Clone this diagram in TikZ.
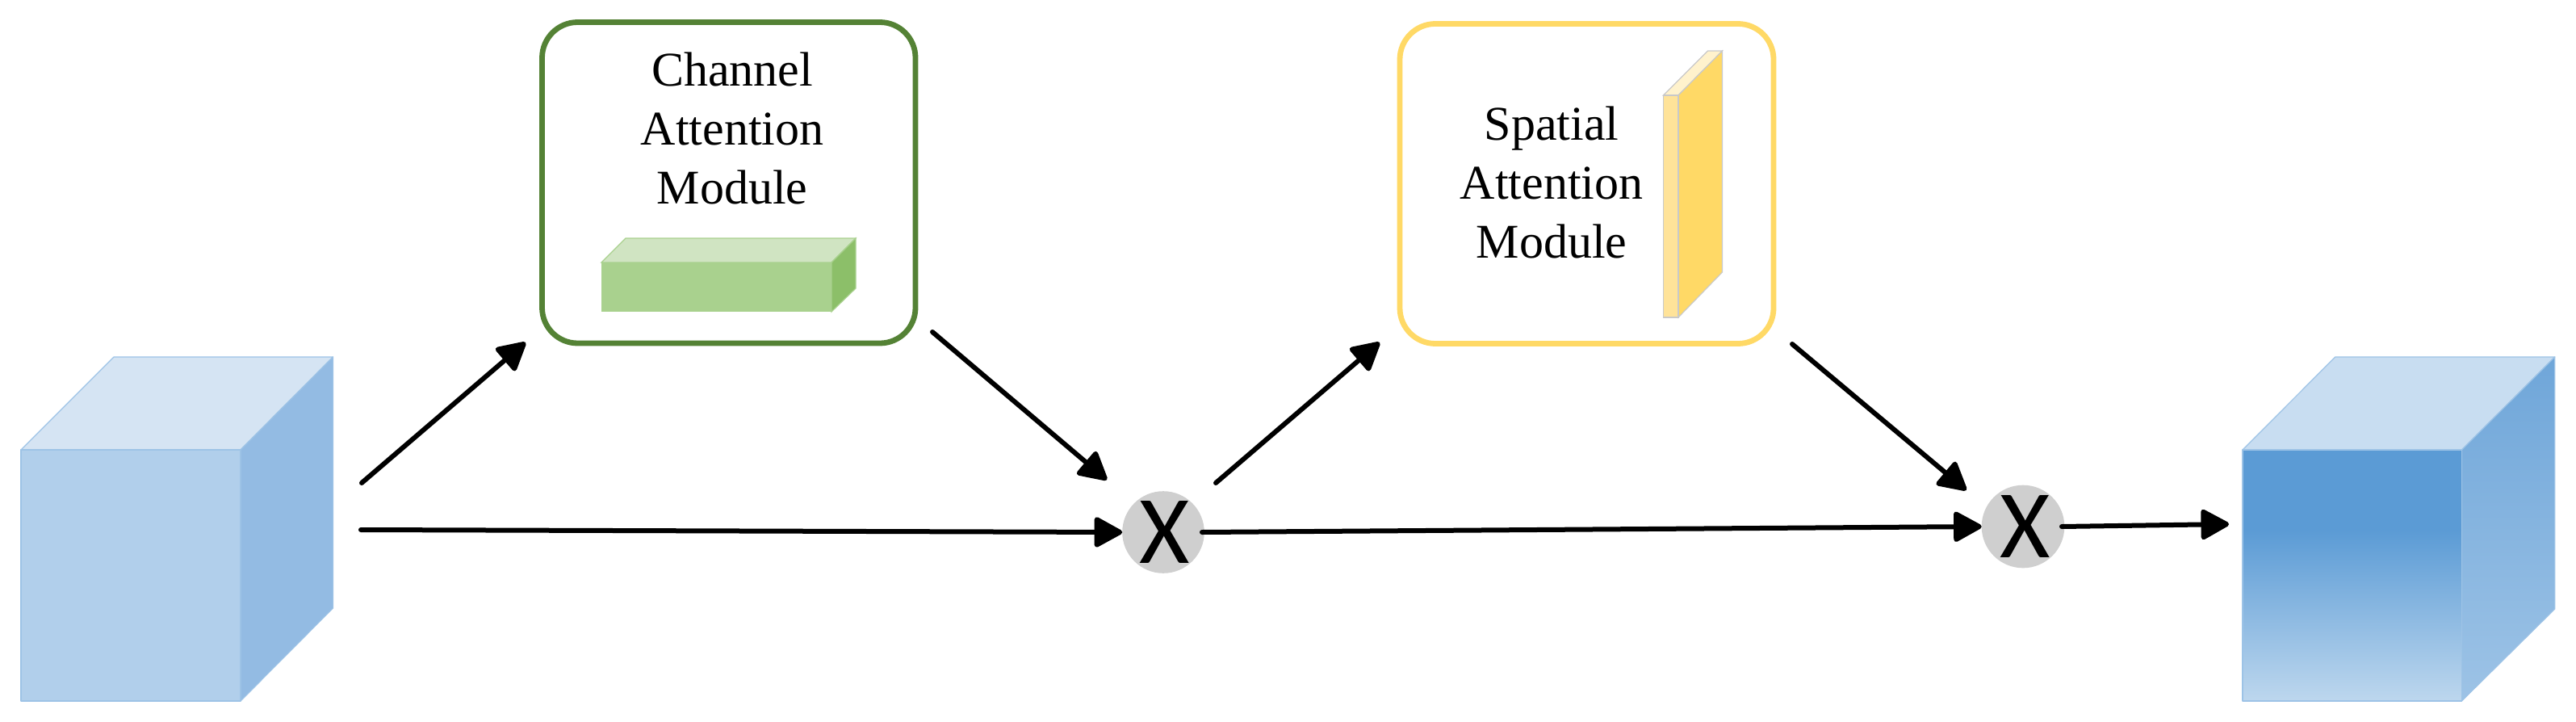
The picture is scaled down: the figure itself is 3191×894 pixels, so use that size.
\documentclass[tikz,border=0pt]{standalone}
\usepackage{fontspec}
\setmainfont{Liberation Serif}
\newfontfamily\xfont{Carlito}
\usetikzlibrary{arrows.meta}
\definecolor{gdark}{HTML}{548235}
\definecolor{gfront}{HTML}{A9D18E}
\definecolor{gtop}{HTML}{D0E4C2}
\definecolor{gside}{HTML}{8CBF69}
\definecolor{yline}{HTML}{FFD966}
\definecolor{yfront}{HTML}{FFE399}
\definecolor{ytop}{HTML}{FFF2CC}
\definecolor{yedge}{HTML}{C9C9C9}
\definecolor{bedge}{HTML}{9DC3E6}
\definecolor{bfront}{HTML}{B1CFEB}
\definecolor{btop}{HTML}{D5E4F3}
\definecolor{bside}{HTML}{93BBE3}
\definecolor{rtop}{HTML}{C8DDF1}
\definecolor{rsidetop}{HTML}{6FA6D9}
\definecolor{rsidebot}{HTML}{9DC3E6}
\definecolor{rfronttop}{HTML}{5B9BD5}
\definecolor{rfrontbot}{HTML}{BDD7EE}
\definecolor{mulgray}{HTML}{CFCFCF}
\pgfdeclareverticalshading{frontgrad}{100bp}{color(0bp)=(rfrontbot); color(25bp)=(rfrontbot); color(59bp)=(rfronttop); color(75bp)=(rfronttop); color(100bp)=(rfronttop)}
\tikzset{
  modulebox/.style={rectangle,rounded corners=22pt,line width=3.4pt,fill=white,inner sep=0pt,outer sep=0pt},
  modtext/.style={inner sep=0pt,outer sep=0pt,align=center,font=\fontsize{30}{36.5}\selectfont},
  mulnode/.style={circle,fill=mulgray,minimum size=50pt,inner sep=0pt,outer sep=0pt,font=\xfont\fontsize{60}{60}\selectfont},
  flow/.style={line width=3pt,line cap=round,-{Triangle[length=19pt,width=20pt,round]}},
  cubeface/.style={draw=bedge,line width=0.6pt,line join=round},
}
\begin{document}
\begin{tikzpicture}[x=0.5pt,y=-0.5pt]
\useasboundingbox (0,0) rectangle (3191,894);
% left cube
\path[cubeface,fill=btop] (26,557) -- (141,442) -- (412.5,442) -- (298,557) -- cycle;
\path[cubeface,fill=bside] (298,557) -- (412.5,442) -- (412.5,753) -- (298,868) -- cycle;
\node[cubeface,fill=bfront,rectangle,inner sep=0pt,outer sep=0pt,minimum width=136pt,minimum height=155.5pt] (incube) at (162,712.5) {};
% right cube
\path[cubeface,fill=rtop] (2778,557) -- (2892.7,442) -- (3164.8,442) -- (3049.4,557) -- cycle;
\shade[cubeface,top color=rsidetop,bottom color=rsidebot] (3049.4,557) -- (3164.8,442) -- (3164.8,754) -- (3049.4,868) -- cycle;
\node[cubeface,shade,shading=frontgrad,rectangle,inner sep=0pt,outer sep=0pt,minimum width=135.7pt,minimum height=155.5pt] (outcube) at (2913.7,712.5) {};
% channel module
\node[modulebox,draw=gdark,minimum width=231.25pt,minimum height=198.75pt] (cam) at (902.75,226.25) {};
\node[modtext] (camtext) at (907,159) {Channel\\Attention\\Module};
\path[draw=gfront,line width=0.6pt,fill=gtop] (745,325) -- (775,295) -- (1060,295) -- (1030,325) -- cycle;
\path[draw=gfront,line width=0.6pt,fill=gside] (1030,325) -- (1060,295) -- (1060,357) -- (1030,386) -- cycle;
\node[fill=gfront,rectangle,inner sep=0pt,outer sep=0pt,minimum width=142.5pt,minimum height=30.5pt] (cambar) at (887.5,355.5) {};
% spatial module
\node[modulebox,draw=yline,minimum width=231.5pt,minimum height=198pt] (sam) at (1965.5,227.5) {};
\node[modtext] (samtext) at (1922,226) {Spatial\\Attention\\Module};
\path[draw=yedge,line width=0.6pt,fill=ytop] (2060.4,118) -- (2115.5,63) -- (2133.5,63) -- (2079,118) -- cycle;
\path[draw=yedge,line width=0.6pt,fill=yline] (2079,118) -- (2133.5,63) -- (2133.5,337) -- (2079,393) -- cycle;
\node[draw=yedge,fill=yfront,line width=0.6pt,rectangle,inner sep=0pt,outer sep=0pt,minimum width=9.3pt,minimum height=137.5pt] (samslab) at (2069.7,255.5) {};
% multiply nodes
\node[mulnode] (mula) at (1441,659) {\hspace*{2pt}X};
\node[mulnode] (mulb) at (2506,652) {\hspace*{3pt}X};
% free ends of connectors
\coordinate (a1s) at (448,598);
\coordinate (a1e) at (651,424);
\coordinate (a2s) at (447,656);
\coordinate (a3s) at (1155,411);
\coordinate (a4s) at (1506,598);
\coordinate (a4e) at (1709,424);
\coordinate (a5s) at (1489,659);
\coordinate (a6s) at (2220,426);
\coordinate (a7s) at (2554,652);
\coordinate (a7e) at (2761,649);
% connectors
\draw[flow] (a1s) -- (a1e);
\draw[flow] (a2s) -- (mula.west);
\draw[flow,shorten >=22.3pt] (a3s) -- (mula.135);
\draw[flow] (a4s) -- (a4e);
\draw[flow] (a5s) -- (mulb.west);
\draw[flow,shorten >=16.3pt] (a6s) -- (mulb.152);
\draw[flow] (a7s) -- (a7e);
\end{tikzpicture}
\end{document}
